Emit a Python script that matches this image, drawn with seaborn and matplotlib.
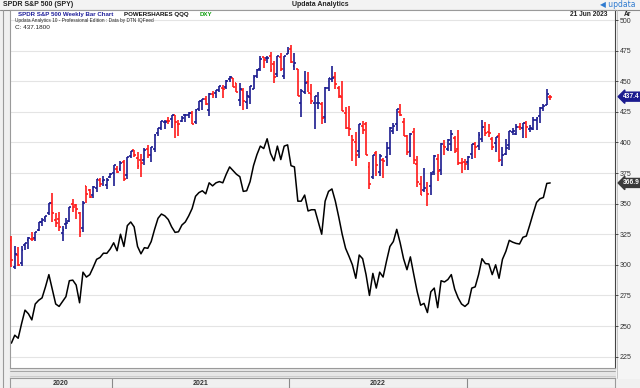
import matplotlib
matplotlib.use("Agg")
import matplotlib.pyplot as plt
import matplotlib.transforms as mtransforms
import seaborn as sns
import numpy as np

# SPY weekly bars, week of 8 Jun 2020 .. week of 19 Jun 2023
spy_open = [
    320.2, 298.0, 308.0, 301.4, 316.4, 320.1, 321.4, 321.6, 328.3, 335.1,
    337.9, 342.1, 350.4, 336.7, 337.5, 325.7, 333.2, 336.2, 349.6, 348.7,
    342.1, 330.2, 364.0, 360.9, 357.3, 362.8, 369.0, 368.6, 365.0, 371.7,
    375.3, 377.9, 378.3, 383.7, 373.7, 389.3, 394.0, 387.1, 385.6, 385.9,
    394.3, 390.0, 394.4, 408.0, 411.5, 416.3, 417.4, 419.4, 422.5, 415.4,
    417.3, 422.6, 422.6, 424.4, 416.8, 427.2, 433.8, 435.4, 426.2, 439.3,
    440.3, 442.5, 444.5, 445.2, 452.1, 452.7, 448.6, 434.9, 442.8, 433.0,
    437.2, 444.0, 454.3, 460.3, 469.7, 468.6, 470.9, 464.1, 456.1, 470.2,
    454.5, 472.1, 476.3, 462.7, 459.7, 432.0, 441.2, 449.5, 439.9, 431.9,
    432.0, 431.6, 420.9, 444.3, 452.1, 453.1, 444.1, 436.8, 423.7, 412.1,
    405.1, 400.0, 392.8, 413.6, 414.8, 379.9, 371.9, 391.1, 375.9, 385.9,
    388.4, 395.8, 409.2, 415.0, 424.8, 417.1, 405.1, 393.1, 408.8, 382.3,
    366.4, 361.1, 361.2, 364.0, 375.9, 386.1, 377.7, 396.7, 394.6, 399.1,
    404.0, 394.5, 383.5, 384.0, 384.4, 390.4, 398.5, 396.7, 402.8, 409.8,
    408.7, 403.1, 399.9, 405.1, 381.8, 390.8, 398.1, 408.9, 406.6, 412.4,
    412.0, 415.5, 410.9, 411.1, 418.6, 422.0, 428.3, 430.9, 437.5,
]
spy_high = [
    323.4, 315.6, 314.5, 315.7, 317.9, 323.0, 327.2, 326.6, 334.9, 338.3,
    339.7, 350.7, 358.8, 342.6, 343.1, 331.4, 338.3, 347.4, 354.0, 349.3,
    343.0, 352.2, 364.4, 362.3, 364.2, 369.9, 371.1, 372.5, 371.0, 374.7,
    381.5, 381.1, 385.0, 385.9, 388.5, 392.9, 394.2, 392.2, 390.9, 395.7,
    398.1, 396.4, 406.6, 411.9, 417.9, 418.3, 420.7, 422.8, 422.7, 418.2,
    421.3, 422.9, 424.6, 425.5, 427.1, 434.1, 435.8, 437.9, 440.3, 441.8,
    442.9, 445.9, 447.1, 451.0, 454.0, 452.8, 448.9, 448.4, 444.1, 441.7,
    446.3, 454.7, 459.6, 470.7, 470.2, 470.9, 473.5, 466.6, 470.9, 472.9,
    470.9, 478.0, 480.0, 473.2, 460.0, 444.0, 458.1, 457.9, 448.1, 437.8,
    441.1, 433.4, 444.9, 453.0, 462.1, 457.8, 445.8, 450.0, 429.3, 429.7,
    406.4, 408.6, 415.4, 417.4, 416.6, 383.9, 390.1, 393.2, 390.6, 386.9,
    400.2, 413.0, 415.7, 427.2, 431.7, 420.0, 405.8, 407.5, 411.7, 389.3,
    372.3, 379.5, 367.5, 375.5, 389.5, 390.4, 399.4, 402.3, 402.9, 410.0,
    404.9, 410.5, 387.4, 386.4, 389.3, 399.1, 400.2, 408.2, 418.3, 416.5,
    415.1, 404.2, 404.5, 407.5, 396.5, 402.5, 409.7, 411.9, 415.1, 415.7,
    415.9, 417.6, 414.5, 420.7, 420.8, 428.7, 431.0, 443.9, 438.4,
]
spy_low = [
    298.6, 296.7, 298.9, 298.9, 311.8, 312.6, 319.2, 319.6, 327.7, 332.0,
    335.2, 341.1, 334.9, 331.0, 328.0, 319.8, 329.6, 334.7, 343.1, 337.7,
    322.6, 327.2, 350.5, 354.9, 354.9, 359.2, 363.3, 364.0, 362.0, 370.8,
    364.8, 375.1, 376.8, 368.3, 370.4, 387.5, 387.7, 378.2, 371.9, 381.4,
    387.2, 383.9, 392.3, 405.1, 410.2, 410.6, 415.0, 411.7, 404.0, 405.3,
    417.1, 416.3, 420.3, 414.7, 415.2, 425.6, 426.4, 430.9, 422.0, 436.0,
    436.1, 440.8, 436.1, 443.7, 449.7, 445.3, 441.0, 430.0, 426.4, 427.0,
    431.5, 443.3, 452.4, 458.2, 460.7, 465.1, 457.9, 448.9, 453.6, 458.1,
    451.5, 472.0, 464.7, 459.0, 437.9, 420.8, 439.8, 440.9, 431.8, 410.6,
    427.1, 415.1, 415.8, 442.4, 449.1, 443.4, 436.7, 425.4, 411.2, 405.0,
    385.2, 380.5, 387.0, 406.9, 389.8, 362.2, 370.2, 372.6, 372.9, 371.0,
    380.7, 390.0, 406.8, 409.6, 421.9, 405.3, 390.0, 388.4, 382.1, 363.3,
    357.0, 359.2, 348.1, 357.3, 373.1, 368.8, 373.6, 390.0, 392.7, 393.3,
    391.6, 381.6, 374.8, 377.1, 377.8, 386.3, 387.3, 393.6, 400.3, 405.0,
    404.1, 393.6, 392.3, 384.3, 380.7, 389.4, 393.7, 405.7, 406.0, 410.2,
    403.8, 403.7, 408.9, 410.2, 409.9, 416.2, 425.8, 430.2, 435.0,
]
spy_close = [
    304.2, 308.6, 300.1, 312.2, 317.6, 321.7, 320.9, 326.5, 334.6, 336.8,
    339.5, 350.6, 342.6, 334.1, 330.7, 328.7, 333.8, 346.9, 347.3, 345.8,
    326.5, 350.2, 358.1, 355.3, 363.7, 369.9, 366.3, 369.2, 369.0, 373.9,
    381.3, 375.7, 382.9, 370.1, 387.7, 392.6, 390.0, 380.4, 383.6, 394.1,
    389.5, 396.0, 406.4, 411.5, 417.3, 416.7, 417.3, 422.1, 416.6, 414.9,
    420.0, 422.6, 424.3, 414.9, 426.6, 433.7, 435.5, 431.3, 439.9, 438.5,
    442.5, 445.9, 443.4, 450.3, 453.1, 445.4, 441.4, 443.9, 434.2, 437.9,
    445.9, 453.1, 459.3, 468.5, 467.3, 468.9, 459.0, 453.4, 470.7, 459.9,
    470.6, 475.0, 466.1, 464.7, 438.0, 442.0, 448.7, 440.5, 434.2, 437.8,
    432.2, 420.1, 444.5, 452.7, 452.9, 447.6, 437.8, 426.0, 412.0, 411.3,
    401.7, 389.6, 415.3, 410.5, 389.8, 365.9, 390.1, 381.2, 388.7, 385.1,
    395.1, 412.0, 413.5, 427.1, 422.1, 405.3, 392.2, 406.6, 385.6, 368.0,
    357.2, 362.8, 357.6, 374.3, 389.0, 376.4, 398.5, 396.0, 402.3, 406.9,
    393.3, 383.3, 382.9, 382.4, 388.1, 398.5, 395.9, 405.7, 412.4, 408.0,
    407.3, 396.4, 404.2, 385.9, 390.0, 395.8, 409.4, 409.2, 412.5, 412.2,
    415.9, 412.6, 411.6, 418.6, 420.0, 427.9, 429.9, 439.5, 437.2,
]
# POWERSHARES QQQ weekly close
qqq_close = [
    236.0, 242.5, 240.0, 252.0, 263.0, 260.0, 255.0, 268.0, 271.0, 273.0,
    282.0, 292.0, 280.0, 268.0, 266.0, 270.0, 274.0, 287.0, 287.5, 283.5,
    269.0, 294.0, 290.0, 292.0, 298.0, 304.5, 306.0, 309.5, 309.4, 313.0,
    318.0, 311.5, 325.0, 315.0, 332.0, 335.0, 331.0, 315.0, 309.0, 314.0,
    313.5, 319.0, 329.0, 338.0, 341.5, 340.0, 337.0, 331.0, 326.5, 327.0,
    332.5, 335.0, 340.0, 346.0, 356.0, 359.0, 360.5, 358.0, 367.0, 364.5,
    367.0, 368.0, 367.0, 374.0, 380.0, 377.0, 374.0, 372.0, 360.0, 360.5,
    368.0, 381.0, 390.0, 397.0, 395.0, 403.0, 391.0, 385.0, 397.0, 386.0,
    397.0, 398.0, 381.0, 380.0, 352.0, 352.0, 357.0, 344.0, 345.0, 345.0,
    335.0, 325.0, 352.0, 360.0, 362.0, 352.0, 339.0, 325.0, 313.5, 307.0,
    300.0, 289.0, 308.0, 305.0, 292.0, 275.0, 293.0, 281.0, 294.0, 290.0,
    303.0, 315.0, 319.0, 329.0, 318.0, 305.0, 296.0, 306.5, 292.0, 278.0,
    267.0, 268.5, 261.0, 278.0, 281.0, 265.0, 287.0, 286.0, 288.0, 292.0,
    280.0, 273.0, 268.0, 266.0, 268.5, 281.0, 282.0, 292.0, 305.0, 301.0,
    300.7, 292.0, 300.0, 289.0, 304.5, 311.0, 320.0, 318.5, 317.5, 317.0,
    322.5, 323.5, 332.5, 342.0, 351.0, 354.0, 355.0, 366.5, 366.9,
]
spy_tag = 437.4
qqq_tag = 366.9
year_labels = ["2020", "2021", "2022", ""]
year_breaks = [29.5, 81.5, 133.5]   # between last week of a year and first of the next
price_ticks = [225, 250, 275, 300, 325, 350, 375, 400, 425, 450, 475, 500]

NAVY = "#1b1b8f"
RED = "#ff1a1a"
W, H = 640, 388

sns.set_style("white")
plt.rcParams["font.family"] = ["Liberation Sans", "DejaVu Sans"]

fig = plt.figure(figsize=(6.4, 3.88), dpi=100)
fig.patch.set_facecolor("#f0f0f0")

def fx(x):
    return x / W

def fy(y):
    return 1 - y / H

# frame decoration in pixel coordinates
deco = fig.add_axes([0, 0, 1, 1], zorder=0)
deco.set_xlim(0, W)
deco.set_ylim(H, 0)
deco.axis("off")
deco.fill_between([0, W], 0, 9.5, color="#f3f3f3")
deco.axhline(9.5, color="#8a8a8a", lw=0.8)
deco.fill_between([615, W], 10, 378, color="#f5f5f5")
deco.fill_between([10, 615], 368, 378, color="#e6e6e6")
deco.plot([10, 615], [371, 371], color="#9a9a9a", lw=0.6)
deco.plot([10, 615], [376, 376], color="#c8c8c8", lw=0.6)
deco.plot([2.5, 2.5], [10, H], color="#9a9a9a", lw=0.8)
deco.plot([611, 611], [10, 20], color="#9a9a9a", lw=0.6)
deco.plot([616.5, 616.5], [10, 378], color="#bdbdbd", lw=0.6)

ax = fig.add_axes([fx(10), fy(368), fx(605), (368 - 10) / H], zorder=1)
ax.set_facecolor("white")

weeks = np.arange(len(spy_close))
o = np.array(spy_open)
c = np.array(spy_close)
colors = np.where(c >= o, NAVY, RED)

ax.vlines(weeks, spy_low, spy_high, colors=colors, lw=1.2, zorder=3)
ax.hlines(spy_open, weeks - 0.55, weeks, colors=colors, lw=1.2, zorder=3)
ax.hlines(spy_close, weeks, weeks + 0.55, colors=colors, lw=1.2, zorder=3)

sns.lineplot(x=weeks, y=qqq_close, ax=ax, color="black", lw=1.1, zorder=2)

for t in price_ticks:
    ax.axhline(t, color="#e4e4e4", lw=0.8, zorder=1)

ax.set_xlim(-0.4, 177.0)
ax.set_ylim(215.7, 508.2)
ax.set_xticks([])
ax.yaxis.tick_right()
ax.set_yticks(price_ticks)
ax.set_yticklabels([str(t) for t in price_ticks])
ax.tick_params(axis="y", direction="out", length=2, width=0.6, pad=1.5,
               labelsize=5, colors="#333333", labelcolor="#333333")
ax.set_xlabel("")
ax.set_ylabel("")
for side in ["top", "left", "bottom"]:
    ax.spines[side].set_color("#9a9a9a")
    ax.spines[side].set_linewidth(0.8)
ax.spines["right"].set_color("#444444")
ax.spines["right"].set_linestyle((0, (1, 1)))
ax.spines["right"].set_linewidth(0.8)

# last value tags
trans = mtransforms.blended_transform_factory(ax.transAxes, ax.transData)
ax.text(1.013, spy_tag, f"{spy_tag:.1f}", transform=trans, fontsize=4.8,
        color="white", weight="bold", va="center", ha="left",
        bbox=dict(boxstyle="larrow,pad=0.15", fc=NAVY, ec=NAVY))
ax.text(1.013, qqq_tag, f"{qqq_tag:.1f}", transform=trans, fontsize=4.8,
        color="white", weight="bold", va="center", ha="left",
        bbox=dict(boxstyle="larrow,pad=0.15", fc="#3a3a3a", ec="#3a3a3a"))

# time axis row
tax = fig.add_axes([fx(10), 0, fx(605), 10 / H], zorder=1)
tax.set_facecolor("#f0f0f0")
tax.set_xlim(ax.get_xlim())
tax.set_ylim(0, 1)
tax.set_xticks([])
tax.set_yticks([])
for s in tax.spines.values():
    s.set_color("#9a9a9a")
    s.set_linewidth(0.8)
edges = [ax.get_xlim()[0]] + year_breaks + [ax.get_xlim()[1]]
for b in year_breaks:
    tax.axvline(b, color="#8a8a8a", lw=0.8)
for lab, a, b in zip(year_labels, edges[:-1], edges[1:]):
    tax.text((a + b) / 2, 0.45, lab, ha="center", va="center", fontsize=5,
             weight="bold", color="#333333")

# header texts
fig.text(fx(3), fy(4.8), "SPDR S&P 500 (SPY)", fontsize=5, weight="bold",
         color="#222222", va="center", ha="left")
fig.text(fx(320), fy(4.8), "Updata Analytics", fontsize=5, weight="bold",
         color="#222222", va="center", ha="center")
fig.text(fx(636), fy(4.5), "\u25c0 updata", fontsize=5.5, color="#2f7bd0",
         va="center", ha="right", family=["DejaVu Sans"])
fig.text(fx(608), fy(15), "21 Jun 2023", fontsize=4.8, weight="bold",
         color="#222222", va="center", ha="right")
fig.text(fx(624), fy(15), "Ar", fontsize=4.8, weight="bold", color="#222222",
         va="center", ha="left")

fig.text(fx(18), fy(14.5), "SPDR S&P 500 Weekly Bar Chart", fontsize=4.4,
         weight="bold", color="#1f1f9a", va="center", ha="left")
fig.text(fx(124), fy(14.5), "POWERSHARES QQQ", fontsize=4.4, weight="bold",
         color="#111111", va="center", ha="left")
fig.text(fx(200), fy(14.5), "DXY", fontsize=4.4, weight="bold", color="#10a010",
         va="center", ha="left")
fig.text(fx(15), fy(20.5), "Updata Analytics 10 - Professional Edition : Data by DTN IQFeed",
         fontsize=3.4, color="#222222", va="center", ha="left")
fig.text(fx(15), fy(27.5), "C: 437.1800", fontsize=4.6, color="#222222",
         va="center", ha="left")

fig.savefig("out.png", dpi=100, facecolor=fig.get_facecolor())
